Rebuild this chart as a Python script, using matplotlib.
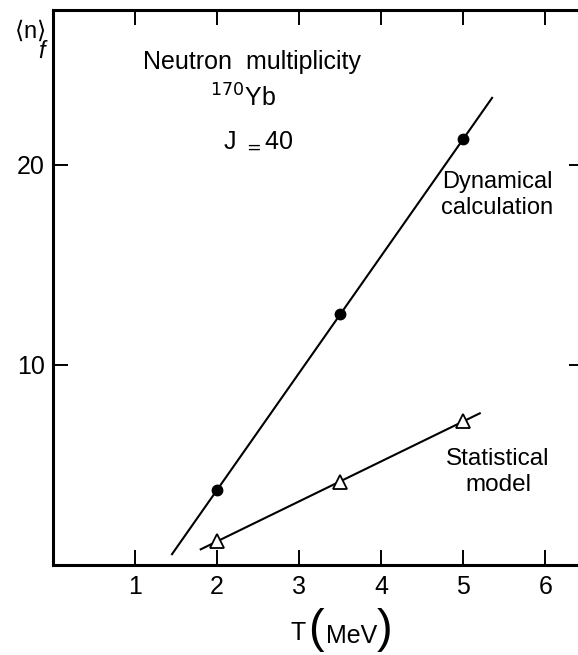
import numpy as np
import matplotlib.pyplot as plt

# neutron multiplicity vs temperature, 170Yb at J = 40
T_pts = [2.0, 3.5, 5.0]
n_dyn = [3.75, 12.55, 21.3]
n_stat = [1.2, 4.15, 7.2]

# extent of the straight lines drawn through each set
T_dyn_line = [1.45, 5.35]
T_stat_line = [1.8, 5.2]

xticks = [1, 2, 3, 4, 5, 6]
yticks = [10, 20]

plt.rcParams['font.family'] = ['Liberation Sans', 'DejaVu Sans']

W, H = 578, 655
fig = plt.figure(figsize=(W / 100, H / 100), dpi=100)
ax = fig.add_axes([53 / W, 90 / H, 531 / W, 555 / H])


def px(x, y):
    # pixel position (from top-left) -> figure fraction
    return x / W, 1 - y / H


def fit_line(x, y, xs):
    k, b = np.polyfit(x, y, 1)
    xs = np.asarray(xs)
    return xs, k * xs + b


xs, ys = fit_line(T_pts, n_dyn, T_dyn_line)
ax.plot(xs, ys, color='black', lw=1.5)
xs, ys = fit_line(T_pts, n_stat, T_stat_line)
ax.plot(xs, ys, color='black', lw=1.5)

ax.plot(T_pts, n_dyn, 'o', color='black', ms=7.5)
ax.plot(T_pts, n_stat, '^', mfc='white', mec='black', mew=1.3, ms=9.5)

ax.set_xlim(0, 6.47)
ax.set_ylim(0, 27.75)

for s in ax.spines.values():
    s.set_linewidth(2.2)
ax.spines['right'].set_visible(False)

ax.set_xticks(xticks)
ax.set_yticks(yticks)
ax.tick_params(direction='in', length=11, width=1.4, labelsize=18,
               top=True, right=True)
ax.tick_params(axis='x', pad=7)
ax.tick_params(axis='y', pad=6)

fig.text(*px(143, 62), 'Neutron  multiplicity', ha='left', va='center',
         fontsize=18)
fig.text(*px(243, 98), r'$^{170}$Yb', ha='center', va='center', fontsize=18)
fig.text(*px(258, 140), r'J $_=$40', ha='center', va='center', fontsize=18)
fig.text(*px(497, 195), 'Dynamical\ncalculation', ha='center', va='center',
         fontsize=17, linespacing=1.25)
fig.text(*px(498, 472), 'Statistical\nmodel', ha='center', va='center',
         fontsize=17.5, linespacing=1.2)

fig.text(*px(30, 30), r'$\langle$n$\rangle$', ha='center', va='center',
         fontsize=17)
fig.text(*px(42, 52), 'f', ha='center', va='center', fontsize=17,
         style='italic')

# x-axis label with tall parentheses around the unit
fig.text(*px(298, 633), 'T', ha='center', va='center', fontsize=18)
fig.text(*px(316, 630), '(', ha='center', va='center', fontsize=34,
         fontweight='light')
fig.text(*px(352, 636), 'MeV', ha='center', va='center', fontsize=18)
fig.text(*px(385, 630), ')', ha='center', va='center', fontsize=34,
         fontweight='light')

fig.savefig('out.png', dpi=100)
